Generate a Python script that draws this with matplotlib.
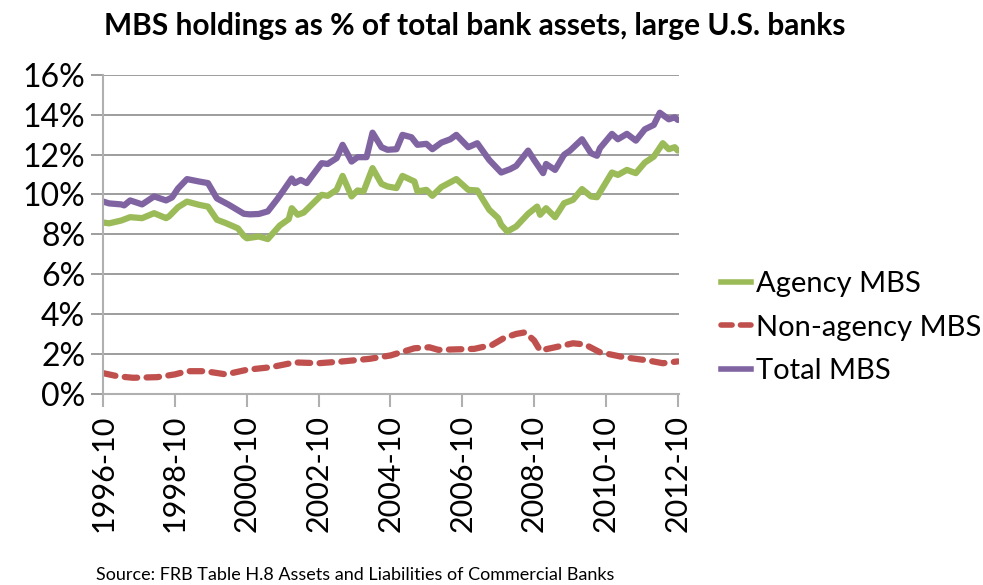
import matplotlib
matplotlib.use("Agg")
import matplotlib.pyplot as plt
from matplotlib.lines import Line2D

plt.rcParams['font.family'] = ['Lato', 'DejaVu Sans']

# months since 1996-10 and values in %
agency_m = [0, 2, 6, 9, 13, 17, 21, 22, 25, 28, 32, 35, 38, 41, 45, 47, 48, 52, 55,
            59, 62, 63, 65, 67, 73, 75, 78, 80, 83, 85, 87, 90, 93, 95, 98, 100, 104,
            105, 108, 110, 113, 118, 122, 125, 129, 132, 133, 135, 138, 142, 145, 146,
            148, 151, 154, 157, 160, 163, 165, 170, 172, 175, 178, 181, 184, 187, 189,
            191, 192]
agency = [8.59, 8.55, 8.69, 8.86, 8.81, 9.06, 8.81, 8.9, 9.36, 9.64, 9.48, 9.39, 8.73,
          8.56, 8.3, 7.92, 7.8, 7.89, 7.76, 8.44, 8.76, 9.31, 8.98, 9.09, 9.98, 9.93,
          10.23, 10.93, 9.9, 10.2, 10.15, 11.32, 10.53, 10.4, 10.32, 10.93, 10.65, 10.15,
          10.23, 9.93, 10.37, 10.77, 10.23, 10.2, 9.23, 8.81, 8.48, 8.14, 8.39, 9.03,
          9.39, 8.98, 9.31, 8.86, 9.56, 9.73, 10.27, 9.9, 9.86, 11.1, 10.98, 11.23,
          11.07, 11.6, 11.9, 12.57, 12.27, 12.37, 12.2]

nonagency_m = [0, 5, 10, 18, 24, 28, 34, 41, 48, 56, 64, 72, 80, 89, 96, 104, 109, 112,
               119, 124, 130, 134, 138, 141, 144, 146, 151, 157, 161, 166, 174, 182,
               187, 192]
nonagency = [1.03, 0.87, 0.8, 0.83, 0.97, 1.13, 1.13, 0.97, 1.2, 1.33, 1.57, 1.53, 1.62,
             1.75, 1.92, 2.28, 2.33, 2.2, 2.23, 2.25, 2.45, 2.8, 3.0, 3.08, 2.67, 2.17,
             2.33, 2.53, 2.47, 2.08, 1.83, 1.67, 1.53, 1.62]

total_m = [0, 2, 6, 7, 9, 13, 17, 21, 23, 25, 28, 32, 35, 38, 42, 47, 49, 52, 55, 58,
           60, 63, 64, 66, 68, 73, 75, 78, 80, 83, 85, 88, 90, 93, 95, 98, 100, 103,
           105, 108, 110, 113, 116, 118, 122, 125, 129, 133, 136, 138, 142, 144, 147,
           148, 151, 154, 156, 160, 163, 165, 166, 170, 172, 175, 178, 181, 184, 186,
           189, 191, 192]
total = [9.64, 9.55, 9.5, 9.45, 9.7, 9.5, 9.9, 9.7, 9.85, 10.3, 10.77, 10.65, 10.57,
         9.8, 9.48, 9.03, 9.0, 9.02, 9.15, 9.73, 10.15, 10.8, 10.57, 10.73, 10.57, 11.57,
         11.53, 11.82, 12.49, 11.65, 11.87, 11.87, 13.1, 12.37, 12.24, 12.27, 12.99,
         12.87, 12.49, 12.54, 12.27, 12.6, 12.77, 12.99, 12.37, 12.57, 11.73, 11.1,
         11.27, 11.43, 12.2, 11.73, 11.07, 11.53, 11.23, 11.99, 12.2, 12.77, 12.07,
         11.94, 12.32, 13.04, 12.77, 13.04, 12.7, 13.27, 13.49, 14.1, 13.77, 13.87, 13.74]

tick_m = [0, 24, 48, 72, 96, 120, 144, 168, 192]
tick_labels = ['1996-10', '1998-10', '2000-10', '2002-10', '2004-10',
               '2006-10', '2008-10', '2010-10', '2012-10']
y_ticks = [0, 2, 4, 6, 8, 10, 12, 14, 16]

green = '#9BBB59'
red = '#C0504D'
purple = '#8064A2'

fig = plt.figure(figsize=(9.83, 5.85), dpi=100)
ax = fig.add_axes([0.105, 0.327, 0.586, 0.545])

ax.plot(agency_m, agency, color=green, lw=4.5, solid_capstyle='round',
        solid_joinstyle='round', label='Agency MBS')
ax.plot(nonagency_m, nonagency, color=red, lw=4.5, dashes=(2.0, 1.5),
        dash_capstyle='round', label='Non-agency MBS')
ax.plot(total_m, total, color=purple, lw=4.5, solid_capstyle='round',
        solid_joinstyle='round', label='Total MBS')

ax.set_xlim(0, 192.5)
ax.set_ylim(0, 16)
ax.set_yticks(y_ticks)
ax.set_yticklabels([f'{v}%' for v in y_ticks], fontsize=23)
ax.set_xticks(tick_m)
ax.set_xticklabels(tick_labels, rotation=90, fontsize=22)
ax.grid(axis='y', color='#8C8C8C', lw=1.2)
ax.set_axisbelow(True)

for s in ['top', 'right']:
    ax.spines[s].set_visible(False)
ax.spines['left'].set_color('#B0B0B0')
ax.spines['bottom'].set_color('#B0B0B0')
ax.spines['left'].set_linewidth(1.5)
ax.spines['bottom'].set_linewidth(1.5)
ax.tick_params(axis='x', direction='out', length=9, width=1.5, color='#B0B0B0', pad=6)
ax.tick_params(axis='y', direction='out', length=9, width=1.2, color='#8C8C8C', pad=4)

handles = [Line2D([], [], color=green, lw=4),
           Line2D([], [], color=red, lw=4, dashes=(2.0, 1.5), dash_capstyle='round'),
           Line2D([], [], color=purple, lw=4)]
fig.legend(handles, ['Agency MBS', 'Non-agency MBS', 'Total MBS'],
           loc='center left', bbox_to_anchor=(0.733, 0.44), frameon=False,
           fontsize=21, handlelength=1.05, handletextpad=0.15, labelspacing=0.6,
           borderpad=0, borderaxespad=0)

fig.text(0.483, 0.955, 'MBS holdings as % of total bank assets, large U.S. banks',
         ha='center', va='center', fontsize=21.5, fontweight='bold')
fig.text(0.098, 0.017, 'Source: FRB Table H.8 Assets and Liabilities of Commercial Banks',
         ha='left', va='center', fontsize=13)

fig.savefig('out.png', dpi=100)
